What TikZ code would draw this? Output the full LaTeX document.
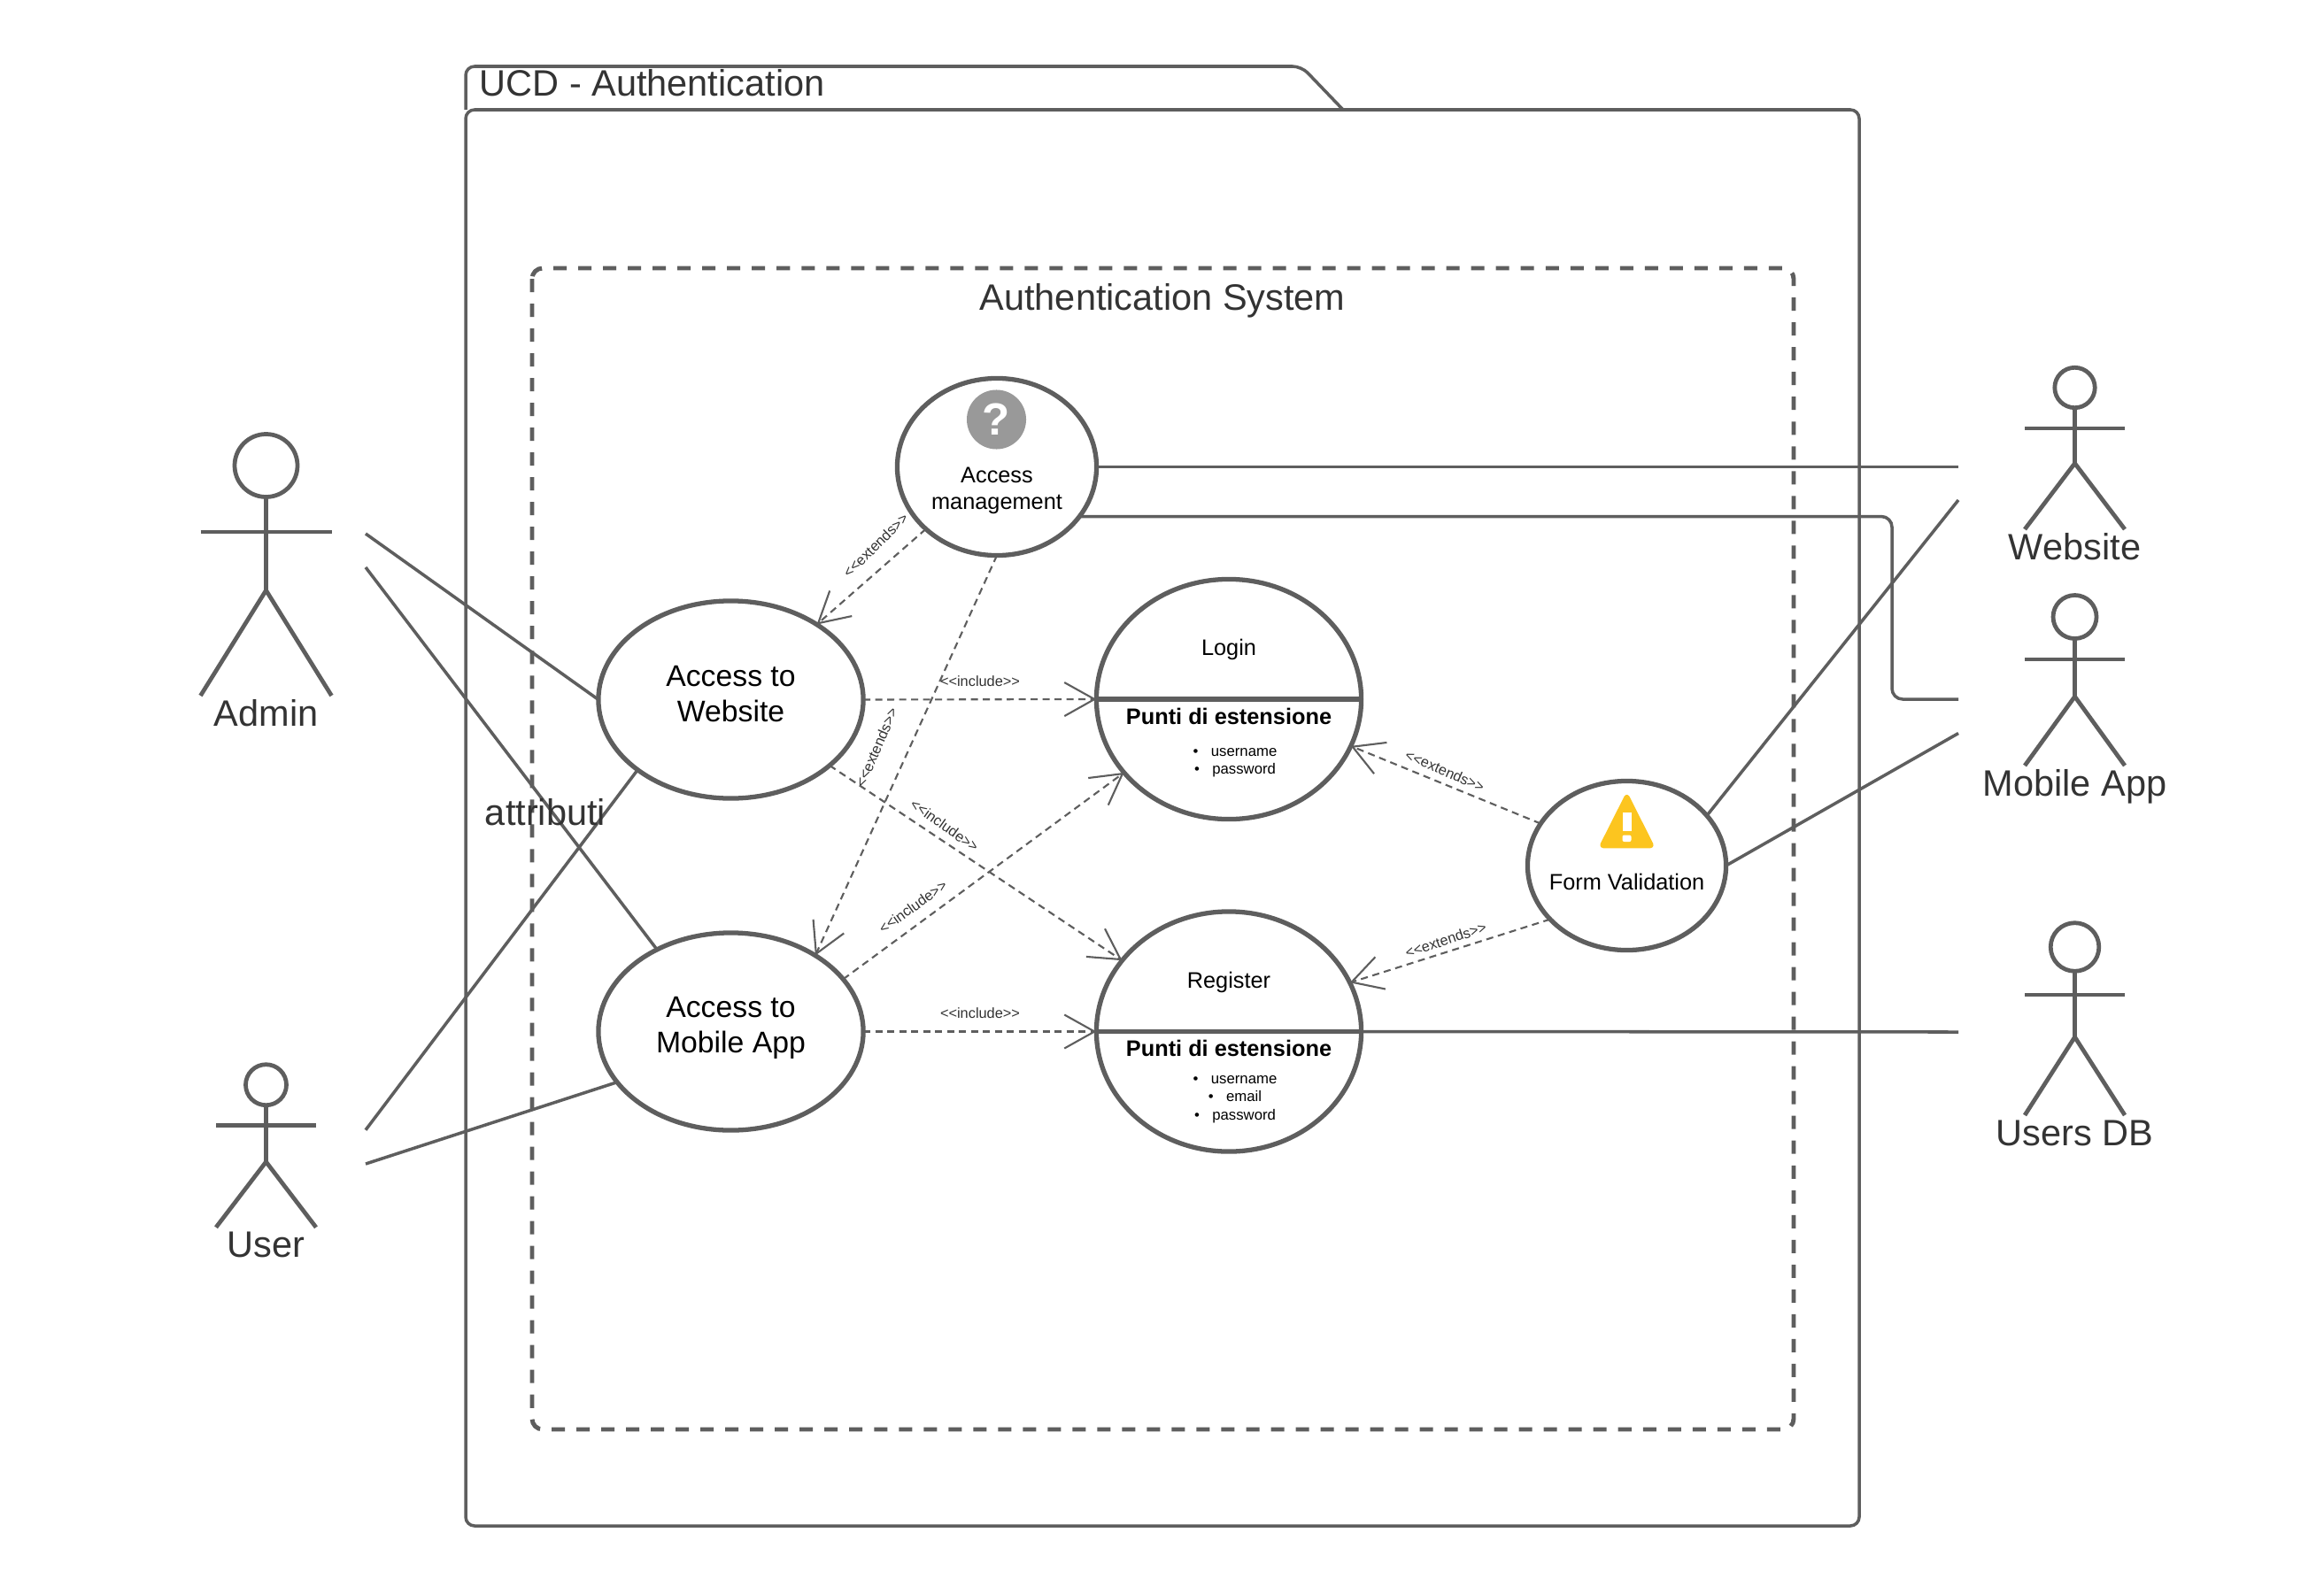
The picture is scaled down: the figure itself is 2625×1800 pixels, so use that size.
\documentclass[tikz,border=0pt]{standalone}
\usepackage{fontspec}
\setmainfont{Liberation Sans}
\usetikzlibrary{arrows.meta,shapes.geometric}
\definecolor{Stroke}{HTML}{5E5E5E}
\definecolor{Ink}{HTML}{333333}
\definecolor{Query}{HTML}{999999}
\definecolor{Warn}{HTML}{FCC51F}
\tikzset{
  bigtext/.style={inner sep=0pt,text=Ink,font=\fontsize{11.8}{14}\selectfont},
  casetext/.style={inner sep=0pt,align=center,text=black,font=\fontsize{9.6}{11.4}\selectfont},
  smalltext/.style={inner sep=0pt,align=center,text=black,font=\fontsize{7.2}{8.5}\selectfont},
  boldtext/.style={inner sep=0pt,text=black,font=\fontsize{7.2}{8.5}\selectfont\bfseries},
  itemtext/.style={inner sep=0pt,align=center,text=black,font=\fontsize{4.76}{5.78}\selectfont},
  stereotext/.style={inner sep=0pt,text=Ink,font=\fontsize{4.65}{5.5}\selectfont},
  usecase/.style={ellipse,draw=Stroke,fill=white,line width=1.5pt,inner sep=0pt,outer sep=0pt},
  assoc/.style={draw=Stroke,line width=1pt},
  actorline/.style={draw=Stroke,line width=1.35pt,line join=round},
  depend/.style={draw=Stroke,line width=0.6pt,dash pattern=on 0.08cm off 0.055cm,
    -{Straight Barb[length=0.34cm,width=0.38cm,line width=0.6pt]}},
}
\newcommand{\stereo}[1]{<{}<#1>{}>}
\newcommand{\bullettext}[1]{•\hspace{4.1pt}#1}
\newcommand{\actor}[9]{%
  \draw[actorline] (#3,#4) circle (#5);
  \draw[actorline] (#3,#4+#5) -- (#3,#8);
  \draw[actorline] (#3-#7,#6) -- (#3+#7,#6);
  \draw[actorline] (#3-#7,#9) -- (#3,#8) -- (#3+#7,#9);
  \node[bigtext,anchor=base] (#1) at (#3,#9+34) {#2};
}
\newcommand{\splitcase}[6]{%
  \node[usecase,minimum width=2.99cm,minimum height=2.71cm] (#1) at (#2,#3) {};
  \draw[draw=Stroke,line width=1.5pt] (#1.west) -- (#1.east);
  \node[smalltext] (#1title) at (#2,#3-56) {#4};
  \node[boldtext] (#1head) at (#2,#3+19) {Punti di estensione};
  \node[itemtext] (#1items) at (#2+7,#3+#5) {#6};
}
\begin{document}
\begin{tikzpicture}[x=0.01cm,y=-0.01cm]
  \useasboundingbox (0,0) rectangle (2625,1800);
  \fill[white] (0,0) rectangle (2625,1800);

  \draw[assoc,rounded corners=0.1cm] (526,124) -- (526,75) -- (1470,75) -- (1517,124);
  \draw[assoc,rounded corners=0.1cm] (526,124) -- (2100,124) -- (2100,1724) -- (526,1724) -- cycle;
  \node[bigtext,anchor=base west] (packagetitle) at (541,109) {UCD - Authentication};
  \draw[draw=Stroke,line width=1.4pt,dash pattern=on 0.15cm off 0.13cm,rounded corners=0.12cm]
    (601,303) rectangle (2026,1615);
  \node[bigtext] (systemtitle) at (1313,340) {Authentication System};

  \actor{admin}{Admin}{300.5}{526}{35.5}{601}{74}{667}{786}
  \actor{user}{User}{300.5}{1225.7}{23}{1271.7}{56.5}{1312.7}{1386.7}
  \actor{website}{Website}{2343.5}{438}{22.7}{484}{56.5}{523.5}{598}
  \actor{mobile}{Mobile App}{2343.5}{697}{24.5}{745}{56.5}{787}{865}
  \actor{usersdb}{Users DB}{2343.5}{1070}{27.3}{1124}{56.5}{1171.7}{1260}

  \node[usecase,minimum width=2.99cm,minimum height=2.23cm] (web) at (825.5,790.5) {};
  \node[casetext] (webtext) at (825.5,784) {Access to\\Website};
  \node[usecase,minimum width=2.99cm,minimum height=2.23cm] (app) at (825.5,1165.5) {};
  \node[casetext] (apptext) at (825.5,1161) {Access to\\Mobile App};
  \node[usecase,minimum width=2.25cm,minimum height=2.0cm] (access) at (1126,527.5) {};
  \node[smalltext] (accesstext) at (1126,554.5) {Access\\management};
  \node[usecase,minimum width=2.24cm,minimum height=1.91cm] (form) at (1837.5,978) {};
  \node[smalltext] (formtext) at (1837.5,996) {Form Validation};

  \splitcase{login}{1388}{790}{Login}{71.5}{\bullettext{username}\\\bullettext{password}}
  \splitcase{register}{1388}{1165.5}{Register}{76.5}{\bullettext{username}\\\bullettext{email}\\\bullettext{password}}

  \node[circle,fill=Query,minimum size=0.67cm,inner sep=0pt,text=white,
        font=\fontsize{14.5}{16}\selectfont\bfseries] (query) at (1125.5,474) {?};
  \fill[Warn,draw=Warn,line width=1pt,line join=round,rounded corners=0.03cm]
    (1837.5,898) -- (1867,956.5) -- (1808,956.5) -- cycle;
  \fill[white] (1832.5,917.5) rectangle (1842.5,939);
  \fill[white,rounded corners=0.02cm] (1832.5,943.5) rectangle (1842.5,951);

  \coordinate (adminweb) at (413,603);
  \coordinate (adminapp) at (413,641);
  \coordinate (userweb) at (413,1276.7);
  \coordinate (userapp) at (413,1315);
  \coordinate (sitelinka) at (2212,527.5);
  \coordinate (sitelinkb) at (2212,565);
  \coordinate (mobilelinka) at (2212,790);
  \coordinate (mobilelinkb) at (2212,828.5);
  \coordinate (mobileturn) at (2137,790);
  \coordinate (dblink) at (2212,1166);

  \draw[assoc] (adminweb) -- (web.west);
  \draw[assoc] (adminapp) -- (app.132.5);
  \draw[assoc] (userweb) -- (web.217.7);
  \draw[assoc] (userapp) -- (app.204.2);
  \draw[assoc] (access.east) -- (sitelinka);
  \draw[assoc,rounded corners=0.12cm] (access.-31) -| (mobileturn) -- (mobilelinka);
  \draw[assoc] (form.32.9) -- (sitelinkb);
  \draw[assoc] (form.east) -- (mobilelinkb);
  \draw[assoc] (register.east) -- (dblink);

  \draw[depend] (web.east) -- (login.west);
  \draw[depend] (web) -- (register);
  \draw[depend] (app.25.5) -- (login.215.8);
  \draw[depend] (app.east) -- (register.west);
  \draw[depend] (access) -- (web);
  \draw[depend] (access.south) -- (app.42);
  \draw[depend] (form.154.8) -- (login.-21.7);
  \draw[depend] (form.215) -- (register.22);

  \node[stereotext] (incwebtologin) at (1107,770) {\stereo{include}};
  \node[stereotext] (incapptoreg) at (1107,1144.5) {\stereo{include}};
  \node[stereotext,rotate=-35.5] (incwebtoreg) at (1067,932.5) {\stereo{include}};
  \node[stereotext,rotate=35.5] (incapptologin) at (1031,1024.5) {\stereo{include}};
  \node[stereotext,rotate=44.6] (extaccweb) at (989,616) {\stereo{extends}};
  \node[stereotext,rotate=66.6] (extaccapp) at (990,844.5) {\stereo{extends}};
  \node[stereotext,rotate=-23.7] (extformlogin) at (1632,871) {\stereo{extends}};
  \node[stereotext,rotate=18.5] (extformreg) at (1633,1062) {\stereo{extends}};

  \node[bigtext] (attributi) at (616,918) {attributi};
\end{tikzpicture}
\end{document}
